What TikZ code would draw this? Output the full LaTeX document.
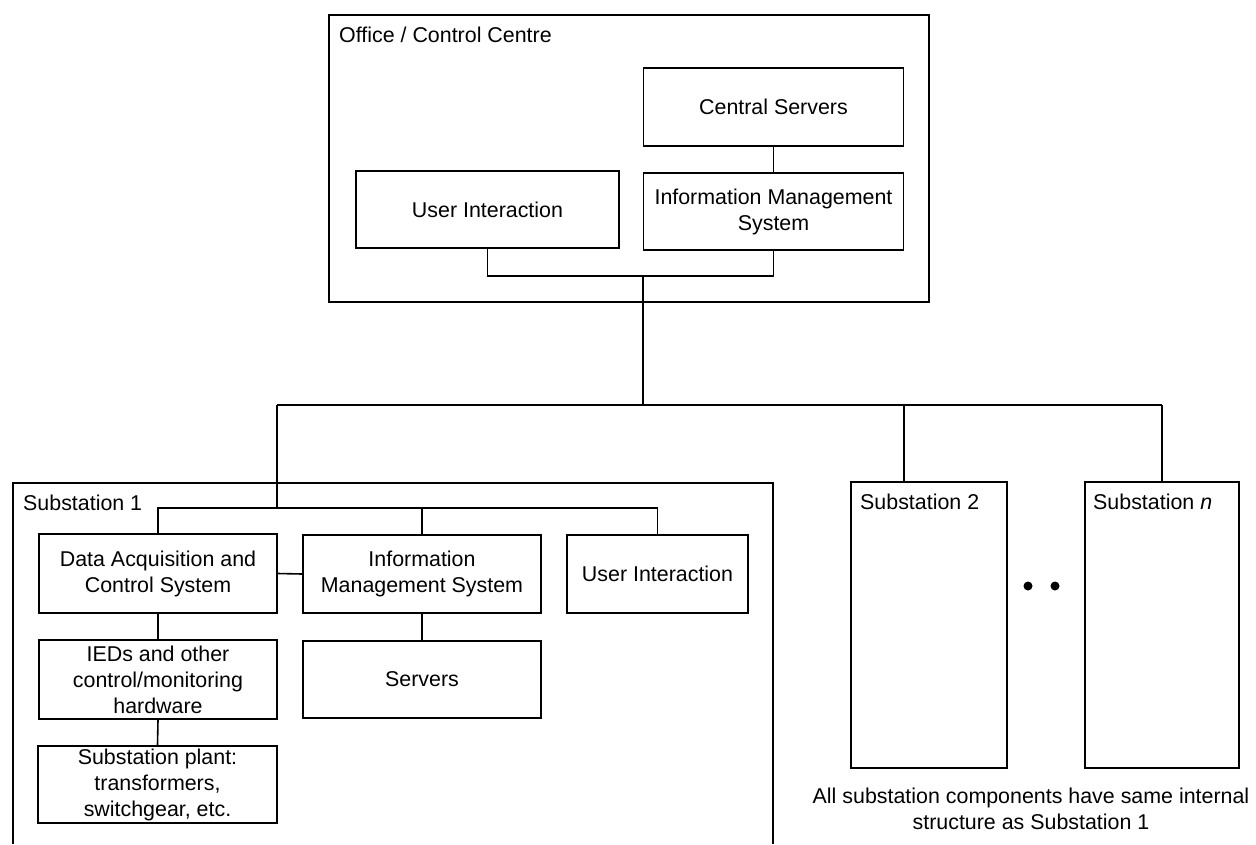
\documentclass[tikz,border=0pt]{standalone}
\usepackage{fontspec}
\setmainfont{Liberation Sans}
\begin{document}
\begin{tikzpicture}[x=1pt,y=-1pt,
  every node/.style={font=\fontsize{21.4}{26}\selectfont},
  box/.style={draw, line width=1.6pt, inner sep=0pt, align=center},
  frame/.style={draw, line width=1.6pt},
  link/.style={draw, line width=1.6pt},
  tag/.style={anchor=base west, inner sep=0pt},
  dot/.style={circle, fill, inner sep=0pt, minimum size=9pt}]
\useasboundingbox (0,0) rectangle (1256,844);

% Office / control centre
\node[frame, minimum width=600pt, minimum height=287pt, inner sep=0pt] (office) at (629,158.5) {};
\node[tag] (officelbl) at (339,42) {Office / Control Centre};
\node[box, minimum width=260pt, minimum height=78pt] (cs) at (773.5,107) {Central Servers};
\node[box, minimum width=263pt, minimum height=77pt] (ui) at (487.5,209.5) {User Interaction};
\node[box, minimum width=260pt, minimum height=77pt] (ims) at (773.5,211.5) {Information Management\\System};
\coordinate (trunktop) at (643,276);
\coordinate (trunkbot) at (643,405);
\draw[link] (cs.south) -- (ims.north);
\draw[link] (ui.south) |- (trunktop) -| (ims.south);
\draw[link] (trunktop) -- (trunkbot);

% Main bus to the substations
\coordinate (busL) at (277,405);
\coordinate (busR) at (1162,405);
\coordinate (s2drop) at (904,405);
\draw[link] (busL) -- (busR);

% Substation 1 (open at the bottom)
\coordinate (s1bl) at (13,844);
\coordinate (s1tl) at (13,483);
\coordinate (s1tr) at (773,483);
\coordinate (s1br) at (773,844);
\draw[frame] (s1bl) -- (s1tl) -- (s1tr) -- (s1br);
\node[tag] (s1lbl) at (23,510) {Substation 1};

\node[box, minimum width=238pt, minimum height=79pt] (dac) at (158,573.5) {Data Acquisition and\\Control System};
\node[box, minimum width=238pt, minimum height=78pt] (ims1) at (422,574) {Information\\Management System};
\node[box, minimum width=181pt, minimum height=78pt] (ui1) at (657.5,574) {User Interaction};
\node[box, minimum width=238pt, minimum height=79pt] (ieds) at (158,679.5) {IEDs and other\\control/monitoring\\hardware};
\node[box, minimum width=238pt, minimum height=77pt] (srv) at (422,679.5) {Servers};
\node[box, minimum width=239pt, minimum height=77pt] (plant) at (157.5,784.5) {Substation plant:\\transformers,\\switchgear, etc.};

\coordinate (ibus) at (277,508);
\draw[link] (busL) -- (ibus);
\draw[link] (dac.north) |- (ibus) -| (ui1.north);
\draw[link] (ims1.north) -- (ims1.north |- ibus);
\draw[link] (dac.east) -- (ims1.west);
\draw[link] (dac.south) -- (ieds.north);
\draw[link] (ieds.south) -- (plant.north);
\draw[link] (ims1.south) -- (srv.north);

% Substations 2 .. n
\node[frame, minimum width=156pt, minimum height=286pt, inner sep=0pt] (sub2) at (929,625) {};
\node[frame, minimum width=154pt, minimum height=286pt, inner sep=0pt] (subn) at (1162,625) {};
\node[tag] (s2lbl) at (860,509) {Substation 2};
\node[tag] (snlbl) at (1093,509) {Substation \textit{n}};
\draw[link] (s2drop) -- (s2drop |- sub2.north);
\draw[link] (busR) -- (subn.north);
\node[dot] (dot1) at (1028,586) {};
\node[dot] (dot2) at (1055,586) {};

% Footnote under the substations; its base is the second line
\node[align=center, inner sep=0pt, anchor=base] (note) at (1031,829)
  {All substation components have same internal\\structure as Substation 1};
\end{tikzpicture}
\end{document}
